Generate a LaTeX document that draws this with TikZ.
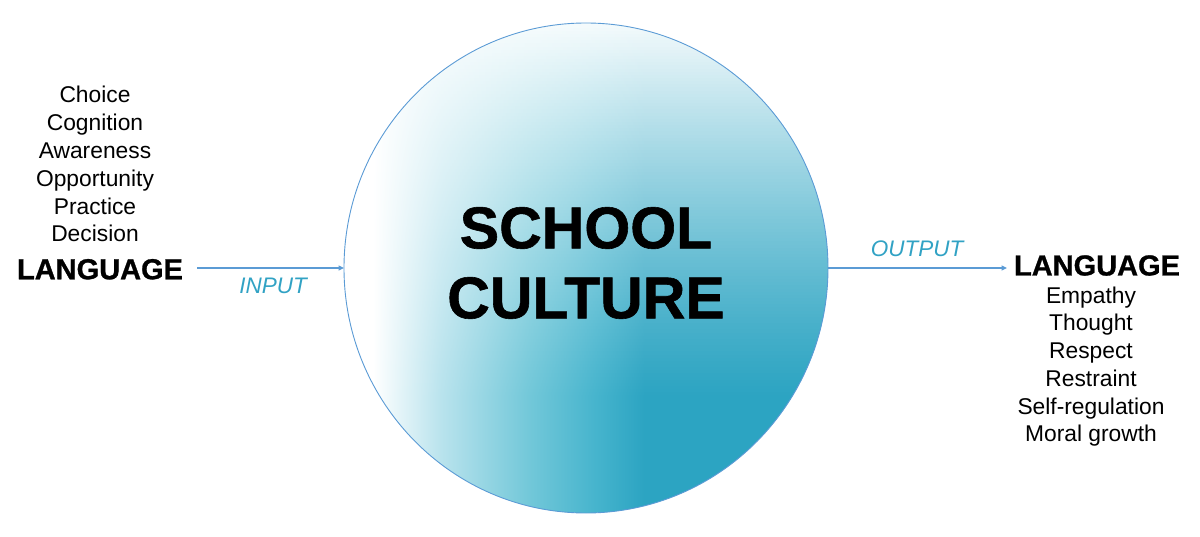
\documentclass[tikz,border=0pt]{standalone}
\usepackage{fontspec}
\setmainfont{Liberation Sans}
\newfontfamily\heavyfont{Liberation Sans}[BoldFeatures={FakeBold=1}]
\usetikzlibrary{arrows.meta}
\definecolor{tealdark}{RGB}{44,164,194}
\definecolor{tealmid}{RGB}{115,200,217}
\definecolor{tealmd}{RGB}{70,180,205}
\definecolor{teallight}{RGB}{185,227,237}
\definecolor{linkblue}{RGB}{91,155,213}
\definecolor{labelteal}{RGB}{49,162,196}
\pgfdeclarehorizontalshading{culturefill}{100bp}{%
  color(0bp)=(white); color(25bp)=(white); color(28bp)=(white);
  color(35bp)=(teallight); color(44bp)=(tealmid); color(51bp)=(tealmd);
  color(56bp)=(tealdark); color(100bp)=(tealdark)}
\tikzset{
  item/.style={anchor=base, font=\fontsize{22.8}{27}\selectfont, inner sep=0pt},
  biglang/.style={anchor=base, font=\heavyfont\fontsize{29}{34}\selectfont\bfseries, inner sep=0pt},
  flowlabel/.style={anchor=base, font=\fontsize{22.5}{27}\selectfont\itshape, text=labelteal, inner sep=0pt},
  titletext/.style={anchor=base, font=\heavyfont\fontsize{59}{70}\selectfont\bfseries, inner sep=0pt},
  arr/.style={draw=linkblue, line width=1.1pt, -{Triangle[length=5.5pt,width=5pt]}},
}
\begin{document}
\begin{tikzpicture}[x=1pt,y=1pt]
\path[use as bounding box] (0,0) rectangle (1200,536);
% circle fill: horizontal gradient, washed with white towards the top
\begin{scope}
  \clip (586,268) ellipse [x radius=242, y radius=245];
  \shade[shading=culturefill] (344,{536-399}) rectangle (828,20);
  \foreach \i in {0,...,119} {
    \pgfmathsetmacro\w{95*(1-(\i+0.5)/120)^1.2}
    \pgfmathsetmacro\p{100-\w}
    \colorlet{sA}{teallight!\p!white}
    \colorlet{sB}{tealmid!\p!white}
    \colorlet{sC}{tealmd!\p!white}
    \colorlet{sD}{tealdark!\p!white}
    \pgfdeclarehorizontalshading{washstrip\i}{100bp}{%
      color(0bp)=(white); color(28bp)=(white); color(35bp)=(sA);
      color(44bp)=(sB); color(51bp)=(sC); color(56bp)=(sD); color(100bp)=(sD)}
    \shade[shading=washstrip\i] (344,{514-\i*3.1417}) rectangle (828,{514-(\i+1)*3.1417-0.4});
  }
\end{scope}
\draw[linkblue, line width=0.9pt] (586,268) ellipse [x radius=242, y radius=245];
\coordinate (cwest) at (344,268);
\coordinate (ceast) at (828,268);
\node[titletext] (school) at (586,{536-248.3}) {SCHOOL};
\node[titletext] (culture) at (586,{536-318.3}) {CULTURE};
% left list
\node[item] (choice) at (95,{536-103}) {Choice};
\node[item] (cognition) at (95,{536-130.8}) {Cognition};
\node[item] (awareness) at (95,{536-158.6}) {Awareness};
\node[item] (opportunity) at (95,{536-186.4}) {Opportunity};
\node[item] (practice) at (95,{536-214.2}) {Practice};
\node[item] (decision) at (95,{536-242}) {Decision};
\node[biglang] (inlang) at (100,{536-279.3}) {LANGUAGE};
% right list
\node[biglang] (outlang) at (1097,{536-275.5}) {LANGUAGE};
\node[item] (empathy) at (1091,{536-303.3}) {Empathy};
\node[item] (thought) at (1091,{536-331}) {Thought};
\node[item] (respect) at (1091,{536-358.7}) {Respect};
\node[item] (restraint) at (1091,{536-386.4}) {Restraint};
\node[item] (selfreg) at (1091,{536-414.1}) {Self-regulation};
\node[item] (moral) at (1091,{536-441.7}) {Moral growth};
% labels
\node[flowlabel] (input) at (273,{536-294}) {INPUT};
\node[flowlabel] (output) at (917,{536-256.7}) {OUTPUT};
% arrows
\coordinate (instart) at (197,268);
\coordinate (outend) at (1007,268);
\draw[arr] (instart) -- (cwest);
\draw[arr] (ceast) -- (outend);
\end{tikzpicture}
\end{document}
